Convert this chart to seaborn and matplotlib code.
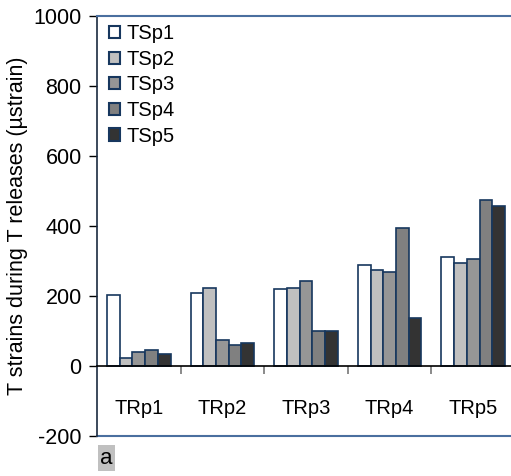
import numpy as np
import pandas as pd
import matplotlib
matplotlib.use("Agg")
import matplotlib.pyplot as plt
import seaborn as sns

# data (µstrain)
groups = ["TRp1", "TRp2", "TRp3", "TRp4", "TRp5"]
series = ["TSp1", "TSp2", "TSp3", "TSp4", "TSp5"]
tsp1 = [203, 208, 219, 288, 312]
tsp2 = [23, 223, 223, 273, 294]
tsp3 = [41, 74, 243, 269, 306]
tsp4 = [47, 61, 99, 393, 474]
tsp5 = [33, 66, 99, 138, 457]
yticks = [-200, 0, 200, 400, 600, 800, 1000]

fills = ["#ffffff", "#c0c0c0", "#969696", "#808080", "#333333"]
edge = "#17375e"

rows = []
for name, vals in zip(series, [tsp1, tsp2, tsp3, tsp4, tsp5]):
    for g, v in zip(groups, vals):
        rows.append({"group": g, "series": name, "value": v})
df = pd.DataFrame(rows)

sns.set_style("white")
plt.rcParams["font.family"] = ["Liberation Sans", "DejaVu Sans"]
plt.rcParams["font.size"] = 15.5
plt.rcParams["text.color"] = "black"
plt.rcParams["axes.labelcolor"] = "black"
plt.rcParams["xtick.color"] = "black"
plt.rcParams["ytick.color"] = "black"

fig = plt.figure(figsize=(5.11, 4.76), dpi=100)
ax = fig.add_axes([97 / 511, 40 / 476, 418 / 511, 420 / 476])

sns.barplot(data=df, x="group", y="value", hue="series", palette=fills,
            width=0.76, edgecolor=edge, linewidth=1.2, ax=ax, legend=True)

ax.set_ylim(-200, 1000)
ax.set_xlim(-0.5, 4.5)
ax.set_yticks(yticks)
ax.set_yticklabels([str(t) for t in yticks], fontsize=15.5, color="black")
ax.tick_params(axis="y", direction="out", length=6, width=1, color="black",
               left=True, pad=5)

# zero line acts as category axis
ax.spines["bottom"].set_position(("data", 0))
ax.spines["bottom"].set_color("black")
ax.spines["bottom"].set_linewidth(1.2)
ax.set_xticks([0.5, 1.5, 2.5, 3.5])
ax.set_xticklabels([])
ax.tick_params(axis="x", direction="out", length=6, width=1.2,
               color="#777777", bottom=True)
ax.axhline(-200, color="#4a6f9f", lw=1.5, clip_on=False)
ax.spines["top"].set_color("#4a6f9f")
ax.spines["top"].set_linewidth(1.5)
ax.spines["right"].set_visible(False)
ax.spines["left"].set_color("#1a2a40")
ax.spines["left"].set_linewidth(1.2)

for i, g in enumerate(groups):
    ax.text(i, -120, g, ha="center", va="center", fontsize=14.5,
            color="black")

ax.set_xlabel("")
ax.set_ylabel("T strains during T releases (µstrain)", fontsize=15.5,
              labelpad=4, color="black")

leg = ax.legend(loc="upper left", frameon=False, fontsize=14.5,
                handlelength=0.55, handleheight=0.55, handletextpad=0.3,
                labelspacing=0.33, borderaxespad=0.0,
                bbox_to_anchor=(0.01, 1.0))
for h in leg.legend_handles:
    h.set_edgecolor(edge)
    h.set_linewidth(1.5)
for t in leg.get_texts():
    t.set_color("black")

fig.text(100 / 511, 1 - 458 / 476, "a", fontsize=16, ha="left", va="center",
         color="black",
         bbox=dict(boxstyle="square,pad=0.1", fc="#c0c0c0", ec="none"))

fig.savefig("out.png", dpi=100)
